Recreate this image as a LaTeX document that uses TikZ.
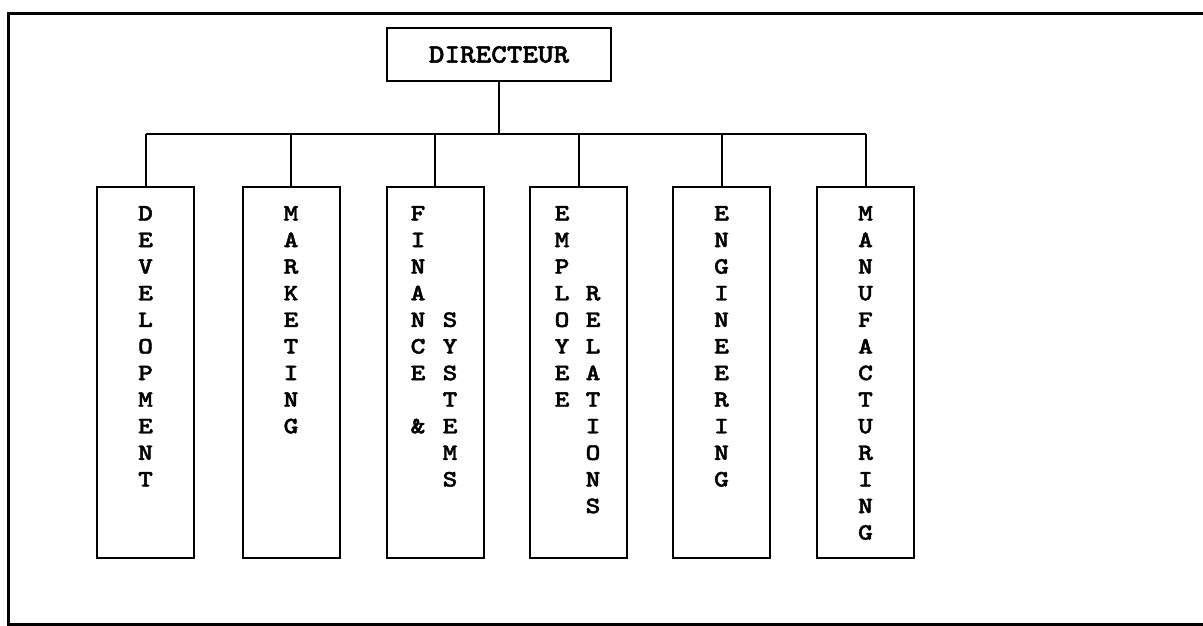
\documentclass[tikz,border=0pt]{standalone}
\usepackage{fontspec}
\usepackage{graphicx}

% chart lettering: bold slab typewriter, slightly widened
\newfontfamily\chartfont{lmmonolt10-bold.otf}[FakeBold=1.5]
\newcommand\headfont{\chartfont\fontsize{26.5}{26.5}\selectfont}
\newcommand\deptfont{\chartfont\fontsize{23.5}{23.5}\selectfont}
\newcommand\wide[2]{\scalebox{#1}[1]{#2}}

% one letter per row, stacked down a column: name, x, first row, letters
\newcommand\vertword[4]{%
  \foreach \ch [count=\i] in {#4}
    \node[letter] (#1-\i) at (#2, {220.5+(#3+\i-2)*26.6}) {\wide{1.2}{\ch}};}

\begin{document}
\begin{tikzpicture}[x=1pt, y=-1pt,
  unit/.style={draw, line width=2pt, inner sep=0pt},
  deptbox/.style={unit, minimum width=97pt, minimum height=371pt},
  letter/.style={font=\deptfont, inner sep=0pt, anchor=base},
  link/.style={line width=2pt},
  frame/.style={line width=2.8pt}]
\useasboundingbox (0,0) rectangle (1203,626);

% outer frame (runs off the right edge)
\draw[frame] (1215,13.5) -- (8.5,13.5) -- (8.5,624.5) -- (1215,624.5);

% head of the chart
\node[unit, minimum width=224pt, minimum height=53pt, font=\headfont]
  (dir) at (499,54.5) {\wide{1.12}{DIRECTEUR}};

% departments
\node[deptbox] (dev) at (145.5,372.5) {};
\node[deptbox] (mkt) at (291,372.5) {};
\node[deptbox] (fin) at (435,372.5) {};
\node[deptbox] (emp) at (578.5,372.5) {};
\node[deptbox] (eng) at (721.5,372.5) {};
\node[deptbox] (mfg) at (865.5,372.5) {};

% connectors
\coordinate (bus) at (499,134);
\draw[link] (dir.south) -- (bus);
\draw[link] (dev.north |- bus) -- (mfg.north |- bus);
\foreach \b in {dev,mkt,fin,emp,eng,mfg}
  \draw[link] (\b.north |- bus) -- (\b.north);

% vertical labels
\vertword{devl}{145.5}{1}{D,E,V,E,L,O,P,M,E,N,T}
\vertword{mktl}{291}{1}{M,A,R,K,E,T,I,N,G}
\vertword{finl}{418}{1}{F,I,N,A,N,C,E}
\vertword{ampl}{418}{9}{\&}
\vertword{sysl}{450}{5}{S,Y,S,T,E,M,S}
\vertword{empl}{562}{1}{E,M,P,L,O,Y,E,E}
\vertword{rell}{593}{4}{R,E,L,A,T,I,O,N,S}
\vertword{engl}{721.5}{1}{E,N,G,I,N,E,E,R,I,N,G}
\vertword{mfgl}{865.5}{1}{M,A,N,U,F,A,C,T,U,R,I,N,G}
\end{tikzpicture}
\end{document}
